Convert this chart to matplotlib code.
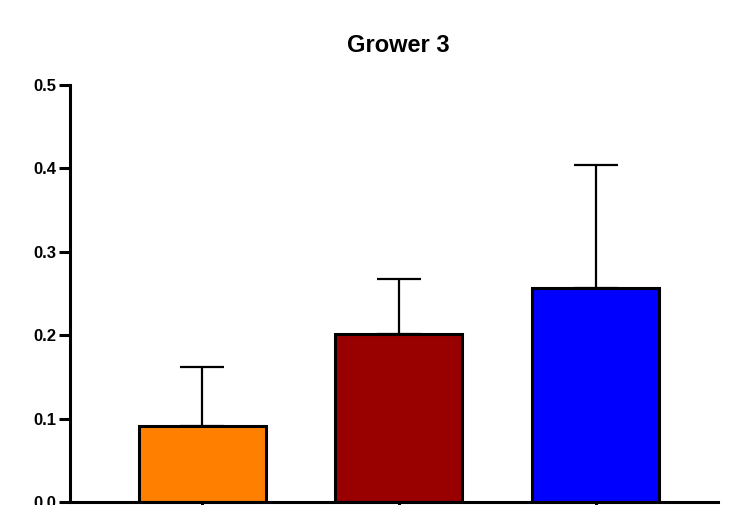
import matplotlib.pyplot as plt

plt.rcParams['font.family'] = ['Liberation Sans', 'DejaVu Sans']
plt.rcParams['font.weight'] = 'bold'

groups = ['1', '2', '3']
means = [0.091, 0.201, 0.256]
errors = [0.071, 0.066, 0.148]
colors = ['#FF8000', '#990000', '#0000FF']
yticks = [0.0, 0.1, 0.2, 0.3, 0.4, 0.5]

fig = plt.figure(figsize=(7.31, 5.05), dpi=100)
ax = fig.add_axes([0.096, 0.006, 0.886, 0.826])

x = list(range(len(groups)))
ax.bar(x, means, width=0.645, color=colors, edgecolor='black', linewidth=2.2, zorder=2)
ax.errorbar(x, means, yerr=[[0] * len(errors), errors], fmt='none', ecolor='black',
            elinewidth=1.6, capsize=16, capthick=1.6, zorder=1)

ax.set_xlim(-0.67, 2.62)
ax.set_ylim(0, 0.5)
ax.set_yticks(yticks)
ax.set_yticklabels([f'{t:.1f}' for t in yticks])
ax.set_xticks(x)
ax.set_xticklabels(['' for g in groups])

for s in ['top', 'right']:
    ax.spines[s].set_visible(False)
for s in ['left', 'bottom']:
    ax.spines[s].set_linewidth(2.2)
ax.tick_params(axis='both', width=2.2, length=8, labelsize=12, pad=2)

fig.text(0.545, 0.91, 'Grower 3', ha='center', va='center', fontsize=17, fontweight='bold')

fig.savefig('out.png', dpi=100)
